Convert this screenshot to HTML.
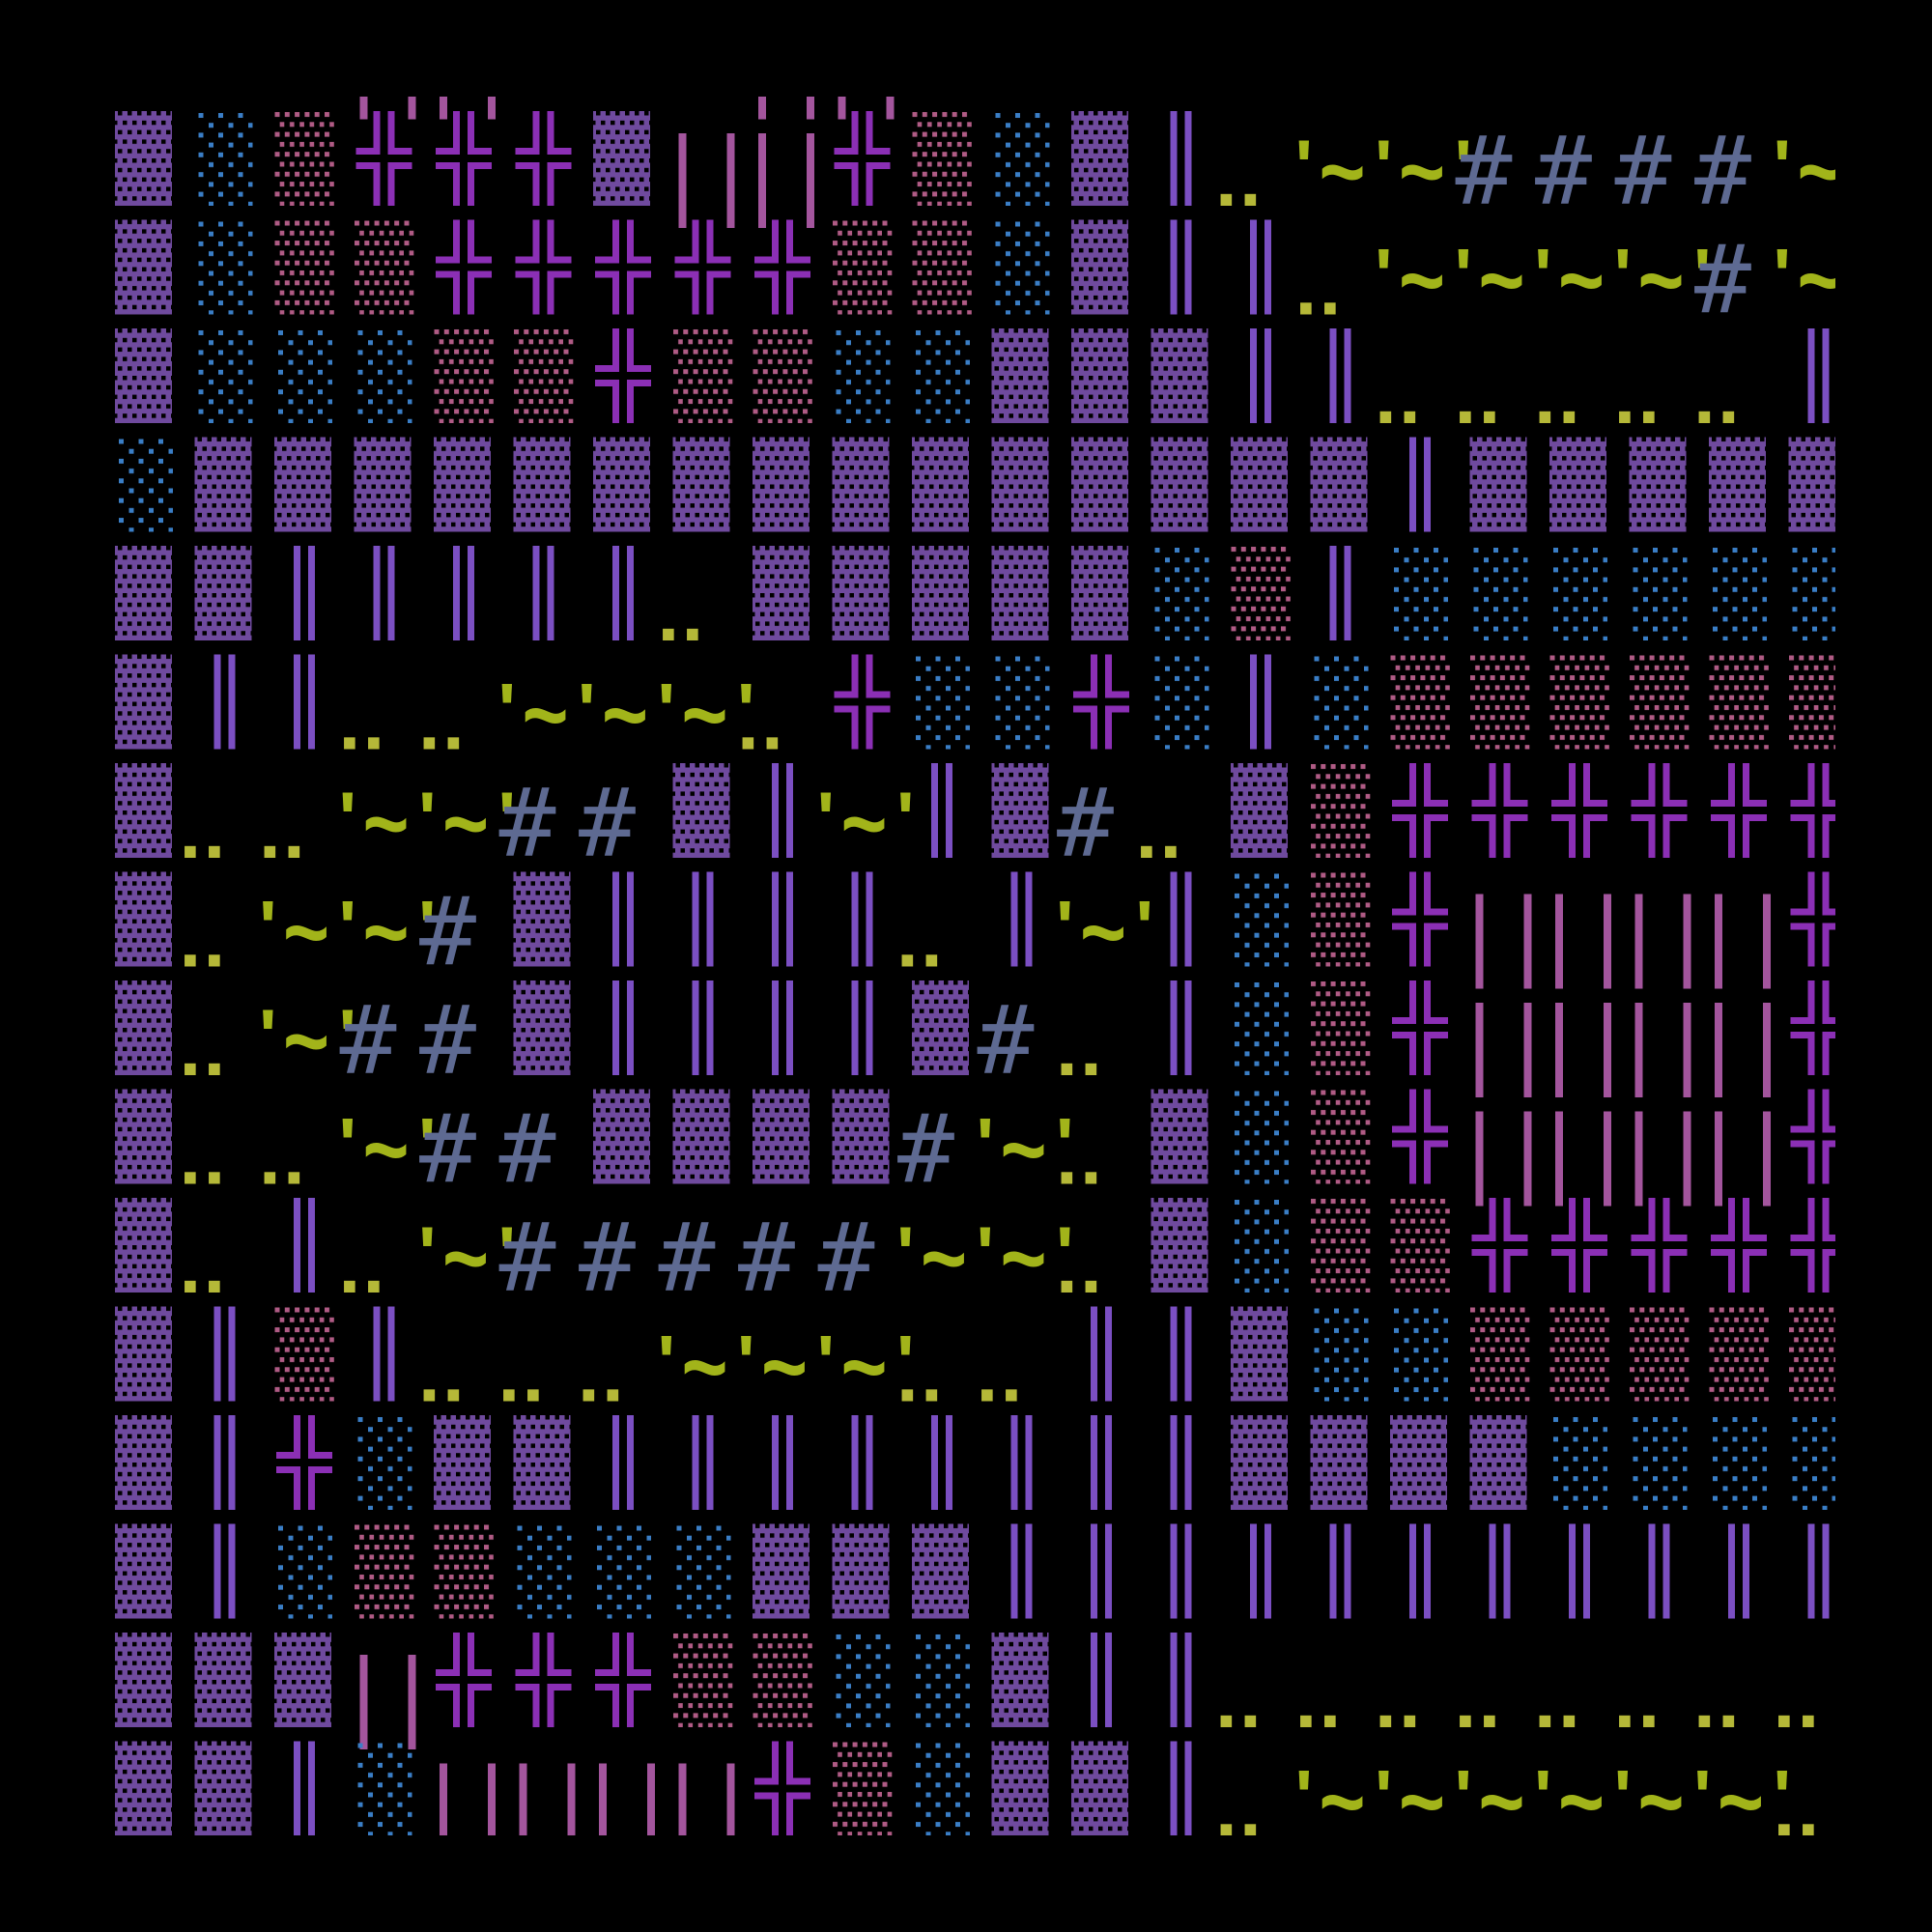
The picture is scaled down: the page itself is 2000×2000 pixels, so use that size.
<!DOCTYPE html>
<html><head><meta charset="utf-8"><style>
html,body{margin:0;padding:0;background:#000;}
svg{display:block;}
</style></head><body>
<svg xmlns="http://www.w3.org/2000/svg" xmlns:xlink="http://www.w3.org/1999/xlink" width="2000" height="2000" viewBox="0 0 2000 2000">
<rect width="2000" height="2000" fill="#000"/>
<defs>
<clipPath id="clip"><rect x="119" y="100" width="1781" height="1800"/></clipPath>
<pattern id="pD" patternUnits="userSpaceOnUse" width="10" height="19.6">
<rect width="10" height="19.6" fill="#6f4a9e"/>
<rect x="3" y="0" width="4.5" height="4.5" fill="#000"/>
<rect x="-2" y="9.8" width="4.5" height="4.5" fill="#000"/>
<rect x="8" y="9.8" width="4.5" height="4.5" fill="#000"/>
</pattern>
<pattern id="pP" patternUnits="userSpaceOnUse" width="10.3" height="20.6">
<rect x="0.5" y="1" width="5" height="5" fill="#b05b85"/>
<rect x="5.65" y="11.3" width="5" height="5" fill="#b05b85"/>
</pattern>
<pattern id="pB" patternUnits="userSpaceOnUse" width="20.5" height="20.4">
<rect x="4" y="2" width="5" height="5" fill="#3a7ec6"/>
<rect x="14.5" y="12.2" width="5" height="5" fill="#3a7ec6"/>
</pattern>
<g id="D"><rect width="59" height="98" fill="url(#pD)"/></g>
<g id="P"><rect width="62" height="98" fill="url(#pP)"/></g>
<g id="B"><rect width="60" height="98" fill="url(#pB)"/></g>
<g id="X" fill="#8b2fb5">
<path d="M20 0H27V45H2V38H20Z"/><path d="M35 0H42V38H60V45H35Z"/>
<path d="M2 53H27V98H20V60H2Z"/><path d="M35 53H60V60H42V98H35Z"/>
</g>
<g id="V" fill="#7b4fc2"><rect x="20" y="0" width="7" height="98"/><rect x="35" y="0" width="7" height="98"/></g>
<g id="L" fill="#a3559d"><rect x="6" y="23" width="8" height="98"/><rect x="56" y="23" width="8" height="98"/></g>
<g id="H"><text x="-15" y="96" font-family="DejaVu Sans Mono, Liberation Mono, monospace" font-size="98" fill="#5e6a92">#</text></g>
<g id="Q"><text x="-16" y="84" font-family="Liberation Sans, sans-serif" font-weight="bold" font-size="78" fill="#a2b41a">'</text></g>
<g id="W"><use xlink:href="#Q"/><text x="9" y="97" font-family="Liberation Sans, sans-serif" font-weight="bold" font-size="100" fill="#a2b41a" textLength="48" lengthAdjust="spacingAndGlyphs">~</text></g>
<g id="O" font-family="Liberation Sans, sans-serif" font-weight="bold" font-size="82" fill="#b5b838"><text x="-16" y="98">.</text><text x="9" y="98">.</text></g>
</defs>
<g clip-path="url(#clip)">
<!-- row -1 -->
<g transform="translate(0,2.5)"><use xlink:href="#L" x="366.5"/><use xlink:href="#L" x="449"/><use xlink:href="#L" x="779"/><use xlink:href="#L" x="861.5"/></g>
<!-- row 0 -->
<g transform="translate(0,115)">
<use xlink:href="#D" x="119"/><use xlink:href="#B" x="201.5"/><use xlink:href="#P" x="284"/><use xlink:href="#X" x="366.5"/><use xlink:href="#X" x="449"/><use xlink:href="#X" x="531.5"/><use xlink:href="#D" x="614"/><use xlink:href="#L" x="696.5"/><use xlink:href="#L" x="779"/><use xlink:href="#X" x="861.5"/><use xlink:href="#P" x="944"/><use xlink:href="#B" x="1026.5"/><use xlink:href="#D" x="1109"/><use xlink:href="#V" x="1191.5"/><use xlink:href="#O" x="1274"/><use xlink:href="#W" x="1356.5"/><use xlink:href="#W" x="1439"/><use xlink:href="#Q" x="1521.5"/><use xlink:href="#H" x="1521.5"/><use xlink:href="#H" x="1604"/><use xlink:href="#H" x="1686.5"/><use xlink:href="#H" x="1769"/><use xlink:href="#W" x="1851.5"/>
</g>
<!-- row 1 -->
<g transform="translate(0,227.5)">
<use xlink:href="#D" x="119"/><use xlink:href="#B" x="201.5"/><use xlink:href="#P" x="284"/><use xlink:href="#P" x="366.5"/><use xlink:href="#X" x="449"/><use xlink:href="#X" x="531.5"/><use xlink:href="#X" x="614"/><use xlink:href="#X" x="696.5"/><use xlink:href="#X" x="779"/><use xlink:href="#P" x="861.5"/><use xlink:href="#P" x="944"/><use xlink:href="#B" x="1026.5"/><use xlink:href="#D" x="1109"/><use xlink:href="#V" x="1191.5"/><use xlink:href="#V" x="1274"/><use xlink:href="#O" x="1356.5"/><use xlink:href="#W" x="1439"/><use xlink:href="#W" x="1521.5"/><use xlink:href="#W" x="1604"/><use xlink:href="#W" x="1686.5"/><use xlink:href="#Q" x="1769"/><use xlink:href="#H" x="1769"/><use xlink:href="#W" x="1851.5"/>
</g>
<!-- row 2 -->
<g transform="translate(0,340)">
<use xlink:href="#D" x="119"/><use xlink:href="#B" x="201.5"/><use xlink:href="#B" x="284"/><use xlink:href="#B" x="366.5"/><use xlink:href="#P" x="449"/><use xlink:href="#P" x="531.5"/><use xlink:href="#X" x="614"/><use xlink:href="#P" x="696.5"/><use xlink:href="#P" x="779"/><use xlink:href="#B" x="861.5"/><use xlink:href="#B" x="944"/><use xlink:href="#D" x="1026.5"/><use xlink:href="#D" x="1109"/><use xlink:href="#D" x="1191.5"/><use xlink:href="#V" x="1274"/><use xlink:href="#V" x="1356.5"/><use xlink:href="#O" x="1439"/><use xlink:href="#O" x="1521.5"/><use xlink:href="#O" x="1604"/><use xlink:href="#O" x="1686.5"/><use xlink:href="#O" x="1769"/><use xlink:href="#V" x="1851.5"/>
</g>
<!-- row 3 -->
<g transform="translate(0,452.5)">
<use xlink:href="#B" x="119"/><use xlink:href="#D" x="201.5"/><use xlink:href="#D" x="284"/><use xlink:href="#D" x="366.5"/><use xlink:href="#D" x="449"/><use xlink:href="#D" x="531.5"/><use xlink:href="#D" x="614"/><use xlink:href="#D" x="696.5"/><use xlink:href="#D" x="779"/><use xlink:href="#D" x="861.5"/><use xlink:href="#D" x="944"/><use xlink:href="#D" x="1026.5"/><use xlink:href="#D" x="1109"/><use xlink:href="#D" x="1191.5"/><use xlink:href="#D" x="1274"/><use xlink:href="#D" x="1356.5"/><use xlink:href="#V" x="1439"/><use xlink:href="#D" x="1521.5"/><use xlink:href="#D" x="1604"/><use xlink:href="#D" x="1686.5"/><use xlink:href="#D" x="1769"/><use xlink:href="#D" x="1851.5"/>
</g>
<!-- row 4 -->
<g transform="translate(0,565)">
<use xlink:href="#D" x="119"/><use xlink:href="#D" x="201.5"/><use xlink:href="#V" x="284"/><use xlink:href="#V" x="366.5"/><use xlink:href="#V" x="449"/><use xlink:href="#V" x="531.5"/><use xlink:href="#V" x="614"/><use xlink:href="#O" x="696.5"/><use xlink:href="#D" x="779"/><use xlink:href="#D" x="861.5"/><use xlink:href="#D" x="944"/><use xlink:href="#D" x="1026.5"/><use xlink:href="#D" x="1109"/><use xlink:href="#B" x="1191.5"/><use xlink:href="#P" x="1274"/><use xlink:href="#V" x="1356.5"/><use xlink:href="#B" x="1439"/><use xlink:href="#B" x="1521.5"/><use xlink:href="#B" x="1604"/><use xlink:href="#B" x="1686.5"/><use xlink:href="#B" x="1769"/><use xlink:href="#B" x="1851.5"/>
</g>
<!-- row 5 -->
<g transform="translate(0,677.5)">
<use xlink:href="#D" x="119"/><use xlink:href="#V" x="201.5"/><use xlink:href="#V" x="284"/><use xlink:href="#O" x="366.5"/><use xlink:href="#O" x="449"/><use xlink:href="#W" x="531.5"/><use xlink:href="#W" x="614"/><use xlink:href="#W" x="696.5"/><use xlink:href="#Q" x="779"/><use xlink:href="#O" x="779"/><use xlink:href="#X" x="861.5"/><use xlink:href="#B" x="944"/><use xlink:href="#B" x="1026.5"/><use xlink:href="#X" x="1109"/><use xlink:href="#B" x="1191.5"/><use xlink:href="#V" x="1274"/><use xlink:href="#B" x="1356.5"/><use xlink:href="#P" x="1439"/><use xlink:href="#P" x="1521.5"/><use xlink:href="#P" x="1604"/><use xlink:href="#P" x="1686.5"/><use xlink:href="#P" x="1769"/><use xlink:href="#P" x="1851.5"/>
</g>
<!-- row 6 -->
<g transform="translate(0,790)">
<use xlink:href="#D" x="119"/><use xlink:href="#O" x="201.5"/><use xlink:href="#O" x="284"/><use xlink:href="#W" x="366.5"/><use xlink:href="#W" x="449"/><use xlink:href="#Q" x="531.5"/><use xlink:href="#H" x="531.5"/><use xlink:href="#H" x="614"/><use xlink:href="#D" x="696.5"/><use xlink:href="#V" x="779"/><use xlink:href="#W" x="861.5"/><use xlink:href="#Q" x="944"/><use xlink:href="#V" x="944"/><use xlink:href="#D" x="1026.5"/><use xlink:href="#H" x="1109"/><use xlink:href="#O" x="1191.5"/><use xlink:href="#D" x="1274"/><use xlink:href="#P" x="1356.5"/><use xlink:href="#X" x="1439"/><use xlink:href="#X" x="1521.5"/><use xlink:href="#X" x="1604"/><use xlink:href="#X" x="1686.5"/><use xlink:href="#X" x="1769"/><use xlink:href="#X" x="1851.5"/>
</g>
<!-- row 7 -->
<g transform="translate(0,902.5)">
<use xlink:href="#D" x="119"/><use xlink:href="#O" x="201.5"/><use xlink:href="#W" x="284"/><use xlink:href="#W" x="366.5"/><use xlink:href="#Q" x="449"/><use xlink:href="#H" x="449"/><use xlink:href="#D" x="531.5"/><use xlink:href="#V" x="614"/><use xlink:href="#V" x="696.5"/><use xlink:href="#V" x="779"/><use xlink:href="#V" x="861.5"/><use xlink:href="#O" x="944"/><use xlink:href="#V" x="1026.5"/><use xlink:href="#W" x="1109"/><use xlink:href="#Q" x="1191.5"/><use xlink:href="#V" x="1191.5"/><use xlink:href="#B" x="1274"/><use xlink:href="#P" x="1356.5"/><use xlink:href="#X" x="1439"/><use xlink:href="#L" x="1521.5"/><use xlink:href="#L" x="1604"/><use xlink:href="#L" x="1686.5"/><use xlink:href="#L" x="1769"/><use xlink:href="#X" x="1851.5"/>
</g>
<!-- row 8 -->
<g transform="translate(0,1015)">
<use xlink:href="#D" x="119"/><use xlink:href="#O" x="201.5"/><use xlink:href="#W" x="284"/><use xlink:href="#Q" x="366.5"/><use xlink:href="#H" x="366.5"/><use xlink:href="#H" x="449"/><use xlink:href="#D" x="531.5"/><use xlink:href="#V" x="614"/><use xlink:href="#V" x="696.5"/><use xlink:href="#V" x="779"/><use xlink:href="#V" x="861.5"/><use xlink:href="#D" x="944"/><use xlink:href="#H" x="1026.5"/><use xlink:href="#O" x="1109"/><use xlink:href="#V" x="1191.5"/><use xlink:href="#B" x="1274"/><use xlink:href="#P" x="1356.5"/><use xlink:href="#X" x="1439"/><use xlink:href="#L" x="1521.5"/><use xlink:href="#L" x="1604"/><use xlink:href="#L" x="1686.5"/><use xlink:href="#L" x="1769"/><use xlink:href="#X" x="1851.5"/>
</g>
<!-- row 9 -->
<g transform="translate(0,1127.5)">
<use xlink:href="#D" x="119"/><use xlink:href="#O" x="201.5"/><use xlink:href="#O" x="284"/><use xlink:href="#W" x="366.5"/><use xlink:href="#Q" x="449"/><use xlink:href="#H" x="449"/><use xlink:href="#H" x="531.5"/><use xlink:href="#D" x="614"/><use xlink:href="#D" x="696.5"/><use xlink:href="#D" x="779"/><use xlink:href="#D" x="861.5"/><use xlink:href="#H" x="944"/><use xlink:href="#W" x="1026.5"/><use xlink:href="#Q" x="1109"/><use xlink:href="#O" x="1109"/><use xlink:href="#D" x="1191.5"/><use xlink:href="#B" x="1274"/><use xlink:href="#P" x="1356.5"/><use xlink:href="#X" x="1439"/><use xlink:href="#L" x="1521.5"/><use xlink:href="#L" x="1604"/><use xlink:href="#L" x="1686.5"/><use xlink:href="#L" x="1769"/><use xlink:href="#X" x="1851.5"/>
</g>
<!-- row 10 -->
<g transform="translate(0,1240)">
<use xlink:href="#D" x="119"/><use xlink:href="#O" x="201.5"/><use xlink:href="#V" x="284"/><use xlink:href="#O" x="366.5"/><use xlink:href="#W" x="449"/><use xlink:href="#Q" x="531.5"/><use xlink:href="#H" x="531.5"/><use xlink:href="#H" x="614"/><use xlink:href="#H" x="696.5"/><use xlink:href="#H" x="779"/><use xlink:href="#H" x="861.5"/><use xlink:href="#W" x="944"/><use xlink:href="#W" x="1026.5"/><use xlink:href="#Q" x="1109"/><use xlink:href="#O" x="1109"/><use xlink:href="#D" x="1191.5"/><use xlink:href="#B" x="1274"/><use xlink:href="#P" x="1356.5"/><use xlink:href="#P" x="1439"/><use xlink:href="#X" x="1521.5"/><use xlink:href="#X" x="1604"/><use xlink:href="#X" x="1686.5"/><use xlink:href="#X" x="1769"/><use xlink:href="#X" x="1851.5"/>
</g>
<!-- row 11 -->
<g transform="translate(0,1352.5)">
<use xlink:href="#D" x="119"/><use xlink:href="#V" x="201.5"/><use xlink:href="#P" x="284"/><use xlink:href="#V" x="366.5"/><use xlink:href="#O" x="449"/><use xlink:href="#O" x="531.5"/><use xlink:href="#O" x="614"/><use xlink:href="#W" x="696.5"/><use xlink:href="#W" x="779"/><use xlink:href="#W" x="861.5"/><use xlink:href="#Q" x="944"/><use xlink:href="#O" x="944"/><use xlink:href="#O" x="1026.5"/><use xlink:href="#V" x="1109"/><use xlink:href="#V" x="1191.5"/><use xlink:href="#D" x="1274"/><use xlink:href="#B" x="1356.5"/><use xlink:href="#B" x="1439"/><use xlink:href="#P" x="1521.5"/><use xlink:href="#P" x="1604"/><use xlink:href="#P" x="1686.5"/><use xlink:href="#P" x="1769"/><use xlink:href="#P" x="1851.5"/>
</g>
<!-- row 12 -->
<g transform="translate(0,1465)">
<use xlink:href="#D" x="119"/><use xlink:href="#V" x="201.5"/><use xlink:href="#X" x="284"/><use xlink:href="#B" x="366.5"/><use xlink:href="#D" x="449"/><use xlink:href="#D" x="531.5"/><use xlink:href="#V" x="614"/><use xlink:href="#V" x="696.5"/><use xlink:href="#V" x="779"/><use xlink:href="#V" x="861.5"/><use xlink:href="#V" x="944"/><use xlink:href="#V" x="1026.5"/><use xlink:href="#V" x="1109"/><use xlink:href="#V" x="1191.5"/><use xlink:href="#D" x="1274"/><use xlink:href="#D" x="1356.5"/><use xlink:href="#D" x="1439"/><use xlink:href="#D" x="1521.5"/><use xlink:href="#B" x="1604"/><use xlink:href="#B" x="1686.5"/><use xlink:href="#B" x="1769"/><use xlink:href="#B" x="1851.5"/>
</g>
<!-- row 13 -->
<g transform="translate(0,1577.5)">
<use xlink:href="#D" x="119"/><use xlink:href="#V" x="201.5"/><use xlink:href="#B" x="284"/><use xlink:href="#P" x="366.5"/><use xlink:href="#P" x="449"/><use xlink:href="#B" x="531.5"/><use xlink:href="#B" x="614"/><use xlink:href="#B" x="696.5"/><use xlink:href="#D" x="779"/><use xlink:href="#D" x="861.5"/><use xlink:href="#D" x="944"/><use xlink:href="#V" x="1026.5"/><use xlink:href="#V" x="1109"/><use xlink:href="#V" x="1191.5"/><use xlink:href="#V" x="1274"/><use xlink:href="#V" x="1356.5"/><use xlink:href="#V" x="1439"/><use xlink:href="#V" x="1521.5"/><use xlink:href="#V" x="1604"/><use xlink:href="#V" x="1686.5"/><use xlink:href="#V" x="1769"/><use xlink:href="#V" x="1851.5"/>
</g>
<!-- row 14 -->
<g transform="translate(0,1690)">
<use xlink:href="#D" x="119"/><use xlink:href="#D" x="201.5"/><use xlink:href="#D" x="284"/><use xlink:href="#L" x="366.5"/><use xlink:href="#X" x="449"/><use xlink:href="#X" x="531.5"/><use xlink:href="#X" x="614"/><use xlink:href="#P" x="696.5"/><use xlink:href="#P" x="779"/><use xlink:href="#B" x="861.5"/><use xlink:href="#B" x="944"/><use xlink:href="#D" x="1026.5"/><use xlink:href="#V" x="1109"/><use xlink:href="#V" x="1191.5"/><use xlink:href="#O" x="1274"/><use xlink:href="#O" x="1356.5"/><use xlink:href="#O" x="1439"/><use xlink:href="#O" x="1521.5"/><use xlink:href="#O" x="1604"/><use xlink:href="#O" x="1686.5"/><use xlink:href="#O" x="1769"/><use xlink:href="#O" x="1851.5"/>
</g>
<!-- row 15 -->
<g transform="translate(0,1802.5)">
<use xlink:href="#D" x="119"/><use xlink:href="#D" x="201.5"/><use xlink:href="#V" x="284"/><use xlink:href="#B" x="366.5"/><use xlink:href="#L" x="449"/><use xlink:href="#L" x="531.5"/><use xlink:href="#L" x="614"/><use xlink:href="#L" x="696.5"/><use xlink:href="#X" x="779"/><use xlink:href="#P" x="861.5"/><use xlink:href="#B" x="944"/><use xlink:href="#D" x="1026.5"/><use xlink:href="#D" x="1109"/><use xlink:href="#V" x="1191.5"/><use xlink:href="#O" x="1274"/><use xlink:href="#W" x="1356.5"/><use xlink:href="#W" x="1439"/><use xlink:href="#W" x="1521.5"/><use xlink:href="#W" x="1604"/><use xlink:href="#W" x="1686.5"/><use xlink:href="#W" x="1769"/><use xlink:href="#Q" x="1851.5"/><use xlink:href="#O" x="1851.5"/>
</g>
</g>
</svg>
</body></html>
